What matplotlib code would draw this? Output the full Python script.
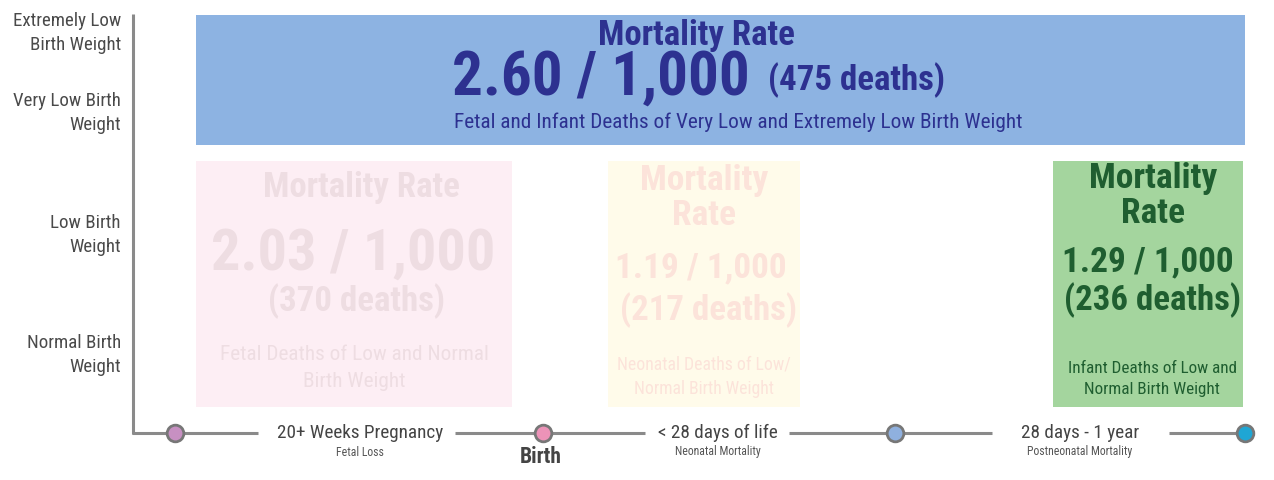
import matplotlib
matplotlib.use("Agg")
import matplotlib.pyplot as plt
from matplotlib.patches import Rectangle
import logging
logging.getLogger("matplotlib.font_manager").setLevel(logging.ERROR)

# ---------------- data ----------------
weight_classes = ["Extremely Low\nBirth Weight", "Very Low Birth\nWeight",
                  "Low Birth\nWeight", "Normal Birth\nWeight"]
stage_labels = ["20+ Weeks Pregnancy", "< 28 days of life", "28 days - 1 year"]
stage_sublabels = ["Fetal Loss", "Neonatal Mortality", "Postneonatal Mortality"]
milestone_labels = ["", "Birth", "", ""]
box_titles = ["Mortality Rate", "Mortality Rate", "Mortality\nRate", "Mortality\nRate"]
rates = [2.60, 2.03, 1.19, 1.29]
deaths = [475, 370, 217, 236]
descriptions = ["Fetal and Infant Deaths of Very Low and Extremely Low Birth Weight",
                "Fetal Deaths of Low and Normal\nBirth Weight",
                "Neonatal Deaths of Low/\nNormal Birth Weight",
                "Infant Deaths of Low and\nNormal Birth Weight"]

# ---------------- layout / style ----------------
COND = ["Roboto Condensed", "Liberation Sans Narrow", "Archivo Narrow"]
W, H = 1274, 480
axis_x, axis_top, axis_y = 133, 14, 433
weight_y = [33, 113, 235, 355]
milestone_x = [175, 543, 895, 1245]
milestone_colors = ["#c790c2", "#ec93b8", "#8fb0de", "#1fa6d4"]
stage_x = [360, 718, 1080]
stage_gap = [(19, 12), (13, 11), (29, 30)]
# boxes: (x0, y0, x1, y1)
boxes = [(196, 15, 1245, 145), (196, 161, 512, 407), (608, 161, 800, 407), (1053, 161, 1243, 407)]
box_fill = ["#8db3e2", "#fdeef4", "#fffbea", "#a4d59e"]
box_text = ["#2d3190", "#eedde2", "#fce3da", "#1f5e30"]
grey = "#8a8a8a"

fig = plt.figure(figsize=(W / 100, H / 100), dpi=100)
ax = fig.add_axes([0, 0, 1, 1])
ax.set_xlim(0, W)
ax.set_ylim(H, 0)
ax.axis("off")

# vertical axis line
ax.plot([axis_x, axis_x], [axis_top, axis_y + 1], color=grey, lw=2.2, solid_capstyle="butt", zorder=2)

# weight class labels
for lab, y in zip(weight_classes, weight_y):
    ax.text(121, y, lab, ha="right", va="center", fontsize=13.6, color="#4a4a4a",
            family=COND, linespacing=1.4)

# boxes
for (x0, y0, x1, y1), fc in zip(boxes, box_fill):
    ax.add_patch(Rectangle((x0, y0), x1 - x0, y1 - y0, facecolor=fc, edgecolor="none", zorder=1))

# top (blue) box text
c = box_text[0]
ax.text(696, 35, box_titles[0], ha="center", va="center", fontsize=25, fontweight="bold",
        color=c, family=COND, zorder=3)
ax.text(750, 78, f"{rates[0]:.2f} / 1,000", ha="right", va="center", fontsize=44,
        fontweight="bold", color=c, family=COND, zorder=3)
ax.text(768, 80, f"({deaths[0]} deaths)", ha="left", va="center", fontsize=25,
        fontweight="bold", color=c, family=COND, zorder=3)
ax.text(738, 122, descriptions[0], ha="center", va="center", fontsize=15.3,
        color=c, family=COND, zorder=3)

# pink box
c = box_text[1]
cx = (boxes[1][0] + boxes[1][2]) / 2
ax.text(cx + 7, 188, box_titles[1], ha="center", va="center", fontsize=25, fontweight="bold",
        color=c, family=COND, zorder=3)
ax.text(cx - 0.5, 254, f"{rates[1]:.2f} / 1,000", ha="center", va="center", fontsize=42,
        fontweight="bold", color=c, family=COND, zorder=3)
ax.text(cx + 2, 301, f"({deaths[1]} deaths)", ha="center", va="center", fontsize=25,
        fontweight="bold", color=c, family=COND, zorder=3)
ax.text(cx, 368, descriptions[1], ha="center", va="center", fontsize=15.3,
        color=c, family=COND, linespacing=1.5, zorder=3)

# yellow box
c = box_text[2]
cx = (boxes[2][0] + boxes[2][2]) / 2
ax.text(cx, 198, box_titles[2], ha="center", va="center", fontsize=25.5, fontweight="bold",
        color=c, family=COND, linespacing=1.05, zorder=3)
ax.text(cx - 3, 268, f"{rates[2]:.2f} / 1,000", ha="center", va="center", fontsize=25.5,
        fontweight="bold", color=c, family=COND, zorder=3)
ax.text(cx + 4, 310, f"({deaths[2]} deaths)", ha="center", va="center", fontsize=25,
        fontweight="bold", color=c, family=COND, zorder=3)
ax.text(cx, 377, descriptions[2], ha="center", va="center", fontsize=12.7,
        color=c, family=COND, linespacing=1.5, zorder=3)

# green box
c = box_text[3]
cx = (boxes[3][0] + boxes[3][2]) / 2
ax.text(cx + 5, 196, box_titles[3], ha="center", va="center", fontsize=25.5, fontweight="bold",
        color=c, family=COND, linespacing=1.05, zorder=3)
ax.text(cx, 262, f"{rates[3]:.2f} / 1,000", ha="center", va="center", fontsize=25.5,
        fontweight="bold", color=c, family=COND, zorder=3)
ax.text(cx + 4, 300, f"({deaths[3]} deaths)", ha="center", va="center", fontsize=25,
        fontweight="bold", color=c, family=COND, zorder=3)
ax.text(cx + 4, 379, descriptions[3], ha="center", va="center", fontsize=12.3,
        color=c, family=COND, linespacing=1.5, zorder=3)

# timeline stage labels
stage_texts = []
for x, lab, sub in zip(stage_x, stage_labels, stage_sublabels):
    t = ax.text(x, 433, lab, ha="center", va="center", fontsize=13.8, color="#444444",
                family=COND, zorder=4)
    stage_texts.append(t)
    ax.text(x, 452, sub, ha="center", va="center", fontsize=8.5, color="#555555",
            family=COND, zorder=5)

# timeline line broken around the stage labels
fig.canvas.draw()
renderer = fig.canvas.get_renderer()
inv = ax.transData.inverted()
cuts = []
for t, (gl, gr) in zip(stage_texts, stage_gap):
    bb = t.get_window_extent(renderer)
    xa = inv.transform((bb.x0, bb.y0))[0]
    xb = inv.transform((bb.x1, bb.y0))[0]
    cuts.append((xa - gl, xb + gr))
start = axis_x - 1
for a, b in cuts:
    ax.plot([start, a], [axis_y, axis_y], color=grey, lw=2.2, solid_capstyle="butt", zorder=2)
    start = b
ax.plot([start, milestone_x[-1]], [axis_y, axis_y], color=grey, lw=2.2, solid_capstyle="butt", zorder=2)

# milestone markers
for x, col, lab in zip(milestone_x, milestone_colors, milestone_labels):
    ax.plot([x], [axis_y], marker="o", markersize=12, markerfacecolor=col,
            markeredgecolor="#777777", markeredgewidth=2, zorder=6)
    if lab:
        ax.text(x - 2, 457, lab, ha="center", va="center", fontsize=15.5, fontweight="bold",
                color="#444444", family=COND, zorder=5)

fig.savefig("out.png", dpi=100)
